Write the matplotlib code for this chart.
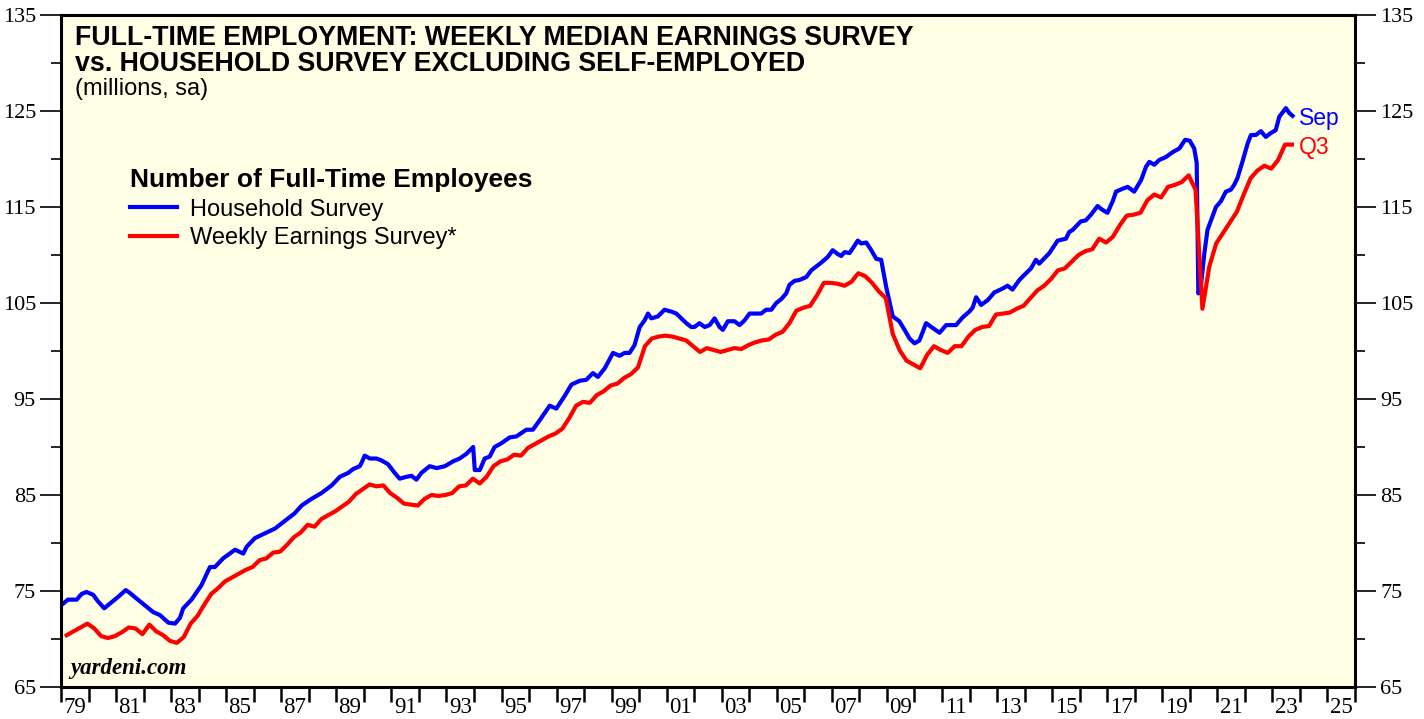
import numpy as np
import matplotlib.pyplot as plt

# household survey (decimal year, millions)
hh_years = [
    1979.0, 1979.25, 1979.57, 1979.75, 1979.93, 1980.17, 1980.35, 1980.57, 1980.78,
    1981.08, 1981.35, 1981.5, 1981.75, 1982.05, 1982.35, 1982.59, 1982.9, 1983.14,
    1983.32, 1983.44, 1983.74, 1984.1, 1984.41, 1984.59, 1984.89, 1985.32, 1985.62,
    1985.74, 1986.04, 1986.4, 1986.77, 1987.13, 1987.49, 1987.74, 1988.1, 1988.46,
    1988.83, 1989.13, 1989.43, 1989.61, 1989.85, 1989.91, 1990.03, 1990.22, 1990.46,
    1990.64, 1990.88, 1991.12, 1991.3, 1991.55, 1991.73, 1991.91, 1992.09, 1992.39,
    1992.64, 1992.94, 1993.24, 1993.48, 1993.73, 1993.97, 1994.03, 1994.21, 1994.39,
    1994.57, 1994.75, 1995.0, 1995.3, 1995.54, 1995.9, 1996.14, 1996.39, 1996.75,
    1996.99, 1997.29, 1997.54, 1997.84, 1998.08, 1998.32, 1998.5, 1998.75, 1999.05,
    1999.29, 1999.47, 1999.65, 1999.83, 2000.02, 2000.2, 2000.32, 2000.44, 2000.68,
    2000.92, 2001.17, 2001.35, 2001.53, 2001.71, 2001.89, 2002.01, 2002.19, 2002.38,
    2002.56, 2002.74, 2002.92, 2003.04, 2003.22, 2003.46, 2003.65, 2003.83, 2004.01,
    2004.19, 2004.43, 2004.61, 2004.8, 2004.98, 2005.16, 2005.34, 2005.46, 2005.64,
    2005.82, 2006.07, 2006.25, 2006.43, 2006.61, 2006.85, 2007.03, 2007.21, 2007.34,
    2007.46, 2007.64, 2007.76, 2007.94, 2008.06, 2008.25, 2008.43, 2008.61, 2008.79,
    2008.97, 2009.21, 2009.45, 2009.64, 2009.82, 2010.0, 2010.18, 2010.42, 2010.66,
    2010.91, 2011.15, 2011.51, 2011.75, 2011.99, 2012.11, 2012.24, 2012.42, 2012.66,
    2012.9, 2013.2, 2013.38, 2013.56, 2013.81, 2014.05, 2014.23, 2014.41, 2014.53,
    2014.9, 2015.2, 2015.5, 2015.62, 2015.74, 2016.04, 2016.22, 2016.41, 2016.65,
    2016.83, 2017.01, 2017.2, 2017.32, 2017.56, 2017.74, 2017.98, 2018.23, 2018.41,
    2018.53, 2018.71, 2018.89, 2019.13, 2019.37, 2019.62, 2019.83, 2020.0, 2020.16,
    2020.25, 2020.31, 2020.41, 2020.53, 2020.64, 2020.82, 2020.95, 2021.13, 2021.31,
    2021.49, 2021.61, 2021.73, 2021.91, 2022.1, 2022.22, 2022.4, 2022.58, 2022.76,
    2022.94, 2023.12, 2023.25, 2023.49, 2023.61, 2023.73,
]
hh_values = [
    73.5, 74.1, 74.1, 74.7, 74.9, 74.6, 73.9, 73.2, 73.7,
    74.4, 75.1, 74.8, 74.2, 73.5, 72.8, 72.5, 71.7, 71.6,
    72.2, 73.2, 74.1, 75.6, 77.5, 77.5, 78.4, 79.3, 78.9,
    79.6, 80.5, 81.0, 81.5, 82.3, 83.1, 83.9, 84.6, 85.2,
    86.0, 86.9, 87.3, 87.7, 88.0, 88.3, 89.1, 88.8, 88.8,
    88.6, 88.2, 87.3, 86.7, 86.9, 87.0, 86.6, 87.3, 88.0,
    87.8, 88.0, 88.5, 88.8, 89.3, 90.0, 87.6, 87.6, 88.8,
    89.0, 90.0, 90.4, 91.0, 91.1, 91.8, 91.8, 92.8, 94.3,
    94.0, 95.3, 96.5, 96.9, 97.0, 97.7, 97.3, 98.2, 99.8,
    99.5, 99.8, 99.8, 100.6, 102.5, 103.2, 103.9, 103.4, 103.6,
    104.3, 104.1, 103.9, 103.4, 102.9, 102.5, 102.5, 102.9, 102.5,
    102.7, 103.4, 102.5, 102.2, 103.1, 103.1, 102.7, 103.2, 103.9,
    103.9, 103.9, 104.3, 104.3, 105.0, 105.4, 106.0, 106.9, 107.3,
    107.4, 107.7, 108.4, 108.8, 109.2, 109.8, 110.5, 110.1, 109.9,
    110.3, 110.2, 110.7, 111.5, 111.2, 111.3, 110.5, 109.6, 109.5,
    106.7, 103.6, 103.1, 102.2, 101.3, 100.8, 101.1, 102.9, 102.4,
    101.9, 102.7, 102.7, 103.5, 104.1, 104.5, 105.6, 104.8, 105.3,
    106.1, 106.5, 106.8, 106.4, 107.4, 108.1, 108.6, 109.5, 109.1,
    110.2, 111.5, 111.7, 112.4, 112.6, 113.5, 113.6, 114.2, 115.1,
    114.7, 114.4, 115.6, 116.6, 116.9, 117.1, 116.6, 117.8, 119.2,
    119.7, 119.4, 119.9, 120.2, 120.7, 121.1, 122.0, 121.9, 121.1,
    119.6, 106.0, 107.0, 110.2, 112.6, 114.0, 115.0, 115.6, 116.6,
    116.8, 117.3, 118.0, 119.7, 121.6, 122.5, 122.5, 122.9, 122.3,
    122.7, 123.0, 124.4, 125.3, 124.8, 124.5,
]

# weekly earnings survey, quarterly from 1979 Q1 to 2023 Q3
we_start_year = 1979
we_values = [
    70.4, 70.8, 71.2, 71.6,   # 79
    71.1, 70.3, 70.1, 70.3,   # 80
    70.7, 71.2, 71.1, 70.5,   # 81
    71.5, 70.8, 70.4, 69.8,   # 82
    69.6, 70.2, 71.6, 72.4,   # 83
    73.6, 74.7, 75.3, 76.0,   # 84
    76.4, 76.8, 77.2, 77.5,   # 85
    78.2, 78.4, 79.0, 79.1,   # 86
    79.8, 80.6, 81.1, 81.9,   # 87
    81.7, 82.5, 82.9, 83.3,   # 88
    83.8, 84.3, 85.1, 85.6,   # 89
    86.1, 85.9, 86.0, 85.2,   # 90
    84.7, 84.1, 84.0, 83.9,   # 91
    84.6, 85.0, 84.9, 85.0,   # 92
    85.2, 85.9, 86.0, 86.7,   # 93
    86.2, 86.9, 88.0, 88.5,   # 94
    88.7, 89.2, 89.1, 89.9,   # 95
    90.3, 90.7, 91.1, 91.4,   # 96
    91.9, 93.0, 94.3, 94.7,   # 97
    94.6, 95.4, 95.8, 96.4,   # 98
    96.6, 97.2, 97.6, 98.3,   # 99
    100.5, 101.3, 101.5, 101.6,  # 00
    101.5, 101.3, 101.1, 100.5,  # 01
    99.9, 100.3, 100.1, 99.9,    # 02
    100.1, 100.3, 100.2, 100.6,  # 03
    100.9, 101.1, 101.2, 101.7,  # 04
    102.0, 102.9, 104.2, 104.5,  # 05
    104.7, 105.8, 107.1, 107.1,  # 06
    107.0, 106.8, 107.2, 108.1,  # 07
    107.8, 107.1, 106.2, 105.5,  # 08
    101.8, 100.1, 99.0, 98.6,    # 09
    98.2, 99.6, 100.5, 100.1,    # 10
    99.8, 100.5, 100.5, 101.5,   # 11
    102.2, 102.5, 102.6, 103.8,  # 12
    103.9, 104.0, 104.4, 104.7,  # 13
    105.5, 106.3, 106.8, 107.5,  # 14
    108.4, 108.6, 109.3, 110.0,  # 15
    110.4, 110.6, 111.7, 111.3,  # 16
    111.9, 113.1, 114.1, 114.2,  # 17
    114.4, 115.7, 116.3, 116.0,  # 18
    117.1, 117.3, 117.6, 118.3,  # 19
    116.8, 104.4, 108.8, 111.2,  # 20
    112.3, 113.4, 114.5, 116.3,  # 21
    118.0, 118.8, 119.3, 119.0,  # 22
    119.9, 121.5, 121.5,         # 23
]
we_years = [we_start_year + i // 4 + (3 * (i % 4 + 1) - 0.5) / 12 for i in range(len(we_values))]

x_min, x_max = 1979, 2026
y_ticks = [65, 75, 85, 95, 105, 115, 125, 135]
y_minor = [70, 80, 90, 100, 110, 120, 130]
x_label_years = list(range(1979, 2026, 2))

serif = ['Liberation Serif', 'DejaVu Serif']
sans = ['Liberation Sans', 'DejaVu Sans']
W, H = 1424, 719

fig = plt.figure(figsize=(W / 100, H / 100), dpi=100)
ax = fig.add_axes([61 / W, 32 / H, 1294 / W, 672 / H])
ax.set_facecolor('#FFFFE6')

ax.plot(hh_years, hh_values, color='#0000FF', linewidth=3.0, solid_joinstyle='round', label='Household Survey')
ax.plot(we_years, we_values, color='#FF0000', linewidth=3.0, solid_joinstyle='round', label='Weekly Earnings Survey*')

ax.set_xlim(x_min, x_max)
ax.set_ylim(65, 135)

ax.set_xticks(range(x_min, x_max + 1))
ax.set_xticklabels([])
ax.set_xticks([y + 0.5 for y in x_label_years], minor=True)
ax.set_xticklabels([str(y)[2:] for y in x_label_years], minor=True, fontfamily=serif, fontsize=16.5)
ax.tick_params(axis='x', which='major', direction='out', length=11, width=1.8, bottom=True, top=False)
ax.tick_params(axis='x', which='minor', length=0, pad=7)

ax.set_yticks(y_ticks)
ax.set_yticks(y_minor, minor=True)
ax.tick_params(axis='y', which='both', direction='out', left=True, right=True,
               labelleft=True, labelright=True)
ax.tick_params(axis='y', which='major', length=15, width=1.2, pad=3)
ax.tick_params(axis='y', which='minor', length=7, width=1.2)
ax.set_yticklabels([str(v) for v in y_ticks])
for t in ax.yaxis.get_major_ticks():
    t.label1.set_fontfamily(serif)
    t.label1.set_fontsize(16)
    t.label2.set_fontfamily(serif)
    t.label2.set_fontsize(16)

for s in ax.spines.values():
    s.set_linewidth(2.2)

fig.text(75 / W, 1 - 45 / H, "FULL-TIME EMPLOYMENT: WEEKLY MEDIAN EARNINGS SURVEY",
         fontfamily=sans, fontsize=19.3, fontweight='bold', va='baseline')
fig.text(75 / W, 1 - 71 / H, "vs. HOUSEHOLD SURVEY EXCLUDING SELF-EMPLOYED",
         fontfamily=sans, fontsize=19.3, fontweight='bold', va='baseline')
fig.text(75 / W, 1 - 95 / H, "(millions, sa)", fontfamily=sans, fontsize=17, va='baseline')

leg = ax.legend(loc='upper left', bbox_to_anchor=((130 - 61) / 1294, (687 - 168) / 672), frameon=False,
                title='Number of Full-Time Employees', prop={'family': sans, 'size': 17},
                handlelength=2.0, handletextpad=0.55, labelspacing=0.28, borderaxespad=0,
                borderpad=0)
leg.get_title().set_fontfamily(sans)
leg.get_title().set_fontsize(19)
leg.get_title().set_fontweight('bold')
leg._legend_box.align = 'left'

ax.text(hh_years[-1] + 0.25, hh_values[-1], 'Sep', color='#0000FF', fontfamily=sans, fontsize=16.5,
        va='center_baseline')
ax.text(we_years[-1] + 0.25, we_values[-1], 'Q3', color='#FF0000', fontfamily=sans, fontsize=16.5,
        va='center_baseline')

ax.text(0.007, 0.012, 'yardeni.com', transform=ax.transAxes, fontfamily=serif, fontsize=16.5,
        fontweight='bold', fontstyle='italic', va='bottom')

plt.savefig('out.png', dpi=100)
plt.close()
